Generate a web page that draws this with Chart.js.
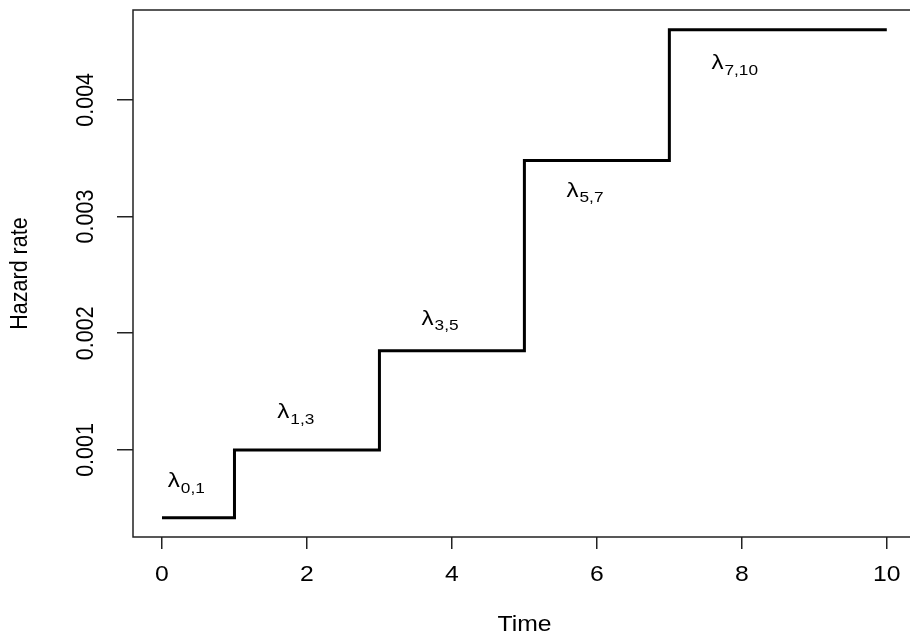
<!DOCTYPE html>
<html>
<head>
<meta charset="utf-8">
<script src="https://cdn.jsdelivr.net/npm/chart.js@4.4.1/dist/chart.umd.min.js"></script>
<style>
  html, body { margin: 0; padding: 0; background: #fff; overflow: hidden; }
  #wrap { width: 910px; height: 638px; }
</style>
</head>
<body>
<div id="wrap"><canvas id="chart" width="910" height="638"></canvas></div>
<script>
// step function: change points and levels
const stepTimes = [0, 1, 3, 5, 7, 10];
const stepRates = [0.00042, 0.001, 0.00185, 0.00348, 0.0046, 0.0046];

const xTicks = [0, 2, 4, 6, 8, 10];
const yTicks = [0.001, 0.002, 0.003, 0.004];

// lambda annotations (left of glyph, vertical centre of glyph)
const lamSubs = ['0,1', '1,3', '3,5', '5,7', '7,10'];
const lamX = [0.08, 1.59, 3.58, 5.58, 7.58];
const lamY = [0.00073, 0.00132, 0.00212, 0.00322, 0.00431];

const FONT = "'Liberation Sans', Arial, Helvetica, sans-serif";
const STRETCH = 1.15; // reference text is a bit wider than tall
const FS = 21.5;
Chart.defaults.font.family = FONT;
Chart.defaults.color = '#000';

// text drawn with a horizontal stretch, optionally rotated
function stretchedText(ctx, txt, x, y, size, align, rot) {
    ctx.save();
    ctx.translate(x, y);
    ctx.scale(STRETCH, 1);
    if (rot) ctx.rotate(rot);
    ctx.font = size + 'px ' + FONT;
    ctx.textAlign = align;
    ctx.textBaseline = 'middle';
    ctx.fillText(txt, 0, 0);
    const w = ctx.measureText(txt).width * STRETCH;
    ctx.restore();
    return w;
}

const boxPlugin = {
    id: 'rbox',
    afterDraw(chart) {
        const ctx = chart.ctx;
        const a = chart.chartArea;
        const ys = chart.scales.y;
        const xs = chart.scales.x;
        ctx.save();
        // frame
        ctx.strokeStyle = '#222';
        ctx.lineWidth = 1.5;
        ctx.beginPath();
        ctx.moveTo(a.right + 10, a.top);
        ctx.lineTo(a.left, a.top);
        ctx.lineTo(a.left, a.bottom);
        ctx.lineTo(a.right + 10, a.bottom);
        ctx.stroke();

        ctx.fillStyle = '#000';
        // x tick labels
        xTicks.forEach(v => {
            stretchedText(ctx, String(v), xs.getPixelForValue(v), 575, FS, 'center', 0);
        });
        // rotated y tick labels
        yTicks.forEach(v => {
            stretchedText(ctx, v.toFixed(3), 86, ys.getPixelForValue(v), FS, 'center', -Math.PI / 2);
        });
        // axis titles
        stretchedText(ctx, 'Time', (a.left + 916) / 2, 625, FS, 'center', 0);
        stretchedText(ctx, 'Hazard rate', 20, (a.top + a.bottom) / 2, FS, 'center', -Math.PI / 2);

        // lambda labels
        lamSubs.forEach((s, i) => {
            const px = xs.getPixelForValue(lamX[i]);
            const py = ys.getPixelForValue(lamY[i]);
            const w = stretchedText(ctx, '\u03bb', px, py, 21, 'left', 0);
            stretchedText(ctx, s, px + w + 1, py + 7, 15, 'left', 0);
        });
        ctx.restore();
    }
};

new Chart(document.getElementById('chart'), {
    type: 'line',
    data: {
        datasets: [{
            data: stepTimes.map((t, i) => ({ x: t, y: stepRates[i] })),
            stepped: 'before',
            borderColor: '#000',
            borderWidth: 3,
            pointRadius: 0,
            fill: false
        }]
    },
    options: {
        responsive: false,
        animation: false,
        layout: { padding: { top: 10, right: 0, left: 0, bottom: 0 } },
        plugins: { legend: { display: false }, tooltip: { enabled: false } },
        scales: {
            x: {
                type: 'linear',
                min: -0.4,
                max: 10.32,
                afterBuildTicks: s => { s.ticks = xTicks.map(v => ({ value: v })); },
                afterFit: s => { s.height = 101; },
                grid: { drawOnChartArea: false, drawTicks: true, tickLength: 12, color: '#222', lineWidth: 1.5 },
                border: { display: false },
                ticks: { display: false }
            },
            y: {
                type: 'linear',
                min: 0.000254,
                max: 0.00477,
                afterBuildTicks: s => { s.ticks = yTicks.map(v => ({ value: v })); },
                afterFit: s => { s.width = 133; },
                grid: { drawOnChartArea: false, drawTicks: true, tickLength: 16, color: '#222', lineWidth: 1.5 },
                border: { display: false },
                ticks: { display: false }
            }
        }
    },
    plugins: [boxPlugin]
});
</script>
</body>
</html>
